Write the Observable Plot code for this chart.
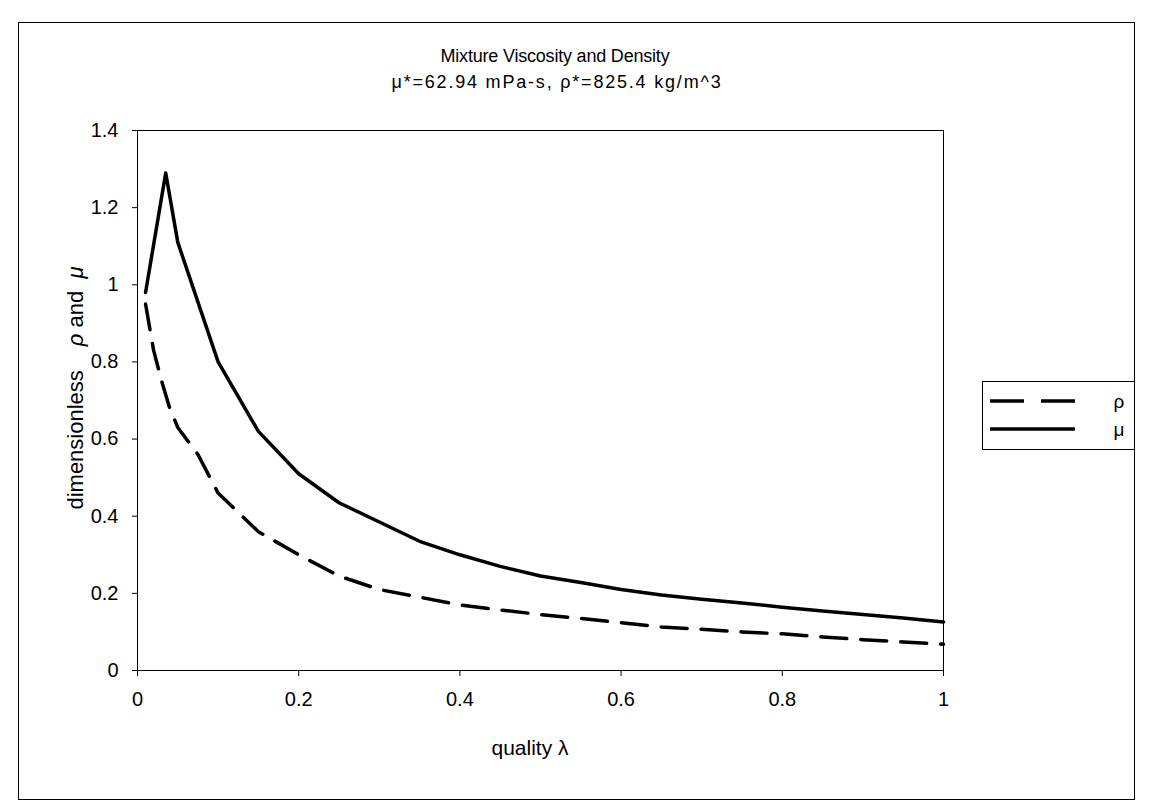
<!DOCTYPE html>
<html><head><meta charset="utf-8">
<script src="https://cdn.jsdelivr.net/npm/d3@7"></script>
<script src="https://cdn.jsdelivr.net/npm/@observablehq/plot@0.6"></script>
<style>
body{margin:0;background:#fff;font-family:"Liberation Sans",Arial,sans-serif;color:#000;}
#wrap{position:relative;width:1150px;height:812px;overflow:hidden;}
#border{position:absolute;left:18px;top:22px;width:1117px;height:778px;border:1px solid #000;box-sizing:border-box;}
#chart svg{position:absolute;left:0;top:0;}
.t{position:absolute;white-space:nowrap;transform:translateX(-50%);}
#title{left:555px;top:46px;font-size:18px;letter-spacing:-0.2px;}
#subtitle{left:557px;top:72px;font-size:18px;letter-spacing:1.8px;}
#xlabel{left:530px;top:736px;font-size:21px;}
#ylabel{position:absolute;left:76px;top:388px;font-size:22px;white-space:nowrap;transform:translate(-50%,-50%) rotate(-90deg);}
#ylabel .gap{display:inline-block;width:24px;}
#legend{position:absolute;left:982px;top:381px;}
</style></head>
<body><div id="wrap">
<div id="border"></div>
<div id="chart"></div>
<div id="title" class="t">Mixture Viscosity and Density</div>
<div id="subtitle" class="t">μ*=62.94 mPa-s, ρ*=825.4 kg/m^3</div>
<div id="xlabel" class="t">quality λ</div>
<div id="ylabel">dimensionless<span class="gap"></span><i>ρ</i> and&nbsp;&nbsp;<i>μ</i></div>
<div id="legend"></div>
</div>
<script>
// quality λ values and dimensionless viscosity μ
const muQuality = [0.01, 0.035, 0.05, 0.1, 0.15, 0.2, 0.25, 0.3, 0.35, 0.4, 0.45, 0.5, 0.55, 0.6, 0.65, 0.7, 0.75, 0.8, 0.85, 0.9, 0.95, 1.0];
const muValues  = [0.98, 1.29, 1.11, 0.80, 0.62, 0.51, 0.435, 0.385, 0.335, 0.30, 0.27, 0.245, 0.228, 0.21, 0.196, 0.185, 0.175, 0.164, 0.154, 0.145, 0.136, 0.126];
// quality λ values and dimensionless density ρ
const rhoQuality = [0.01, 0.02, 0.03, 0.04, 0.05, 0.075, 0.1, 0.15, 0.2, 0.25, 0.3, 0.35, 0.4, 0.45, 0.5, 0.55, 0.6, 0.65, 0.7, 0.75, 0.8, 0.85, 0.9, 0.95, 1.0];
const rhoValues  = [0.95, 0.83, 0.75, 0.68, 0.63, 0.56, 0.46, 0.36, 0.30, 0.245, 0.21, 0.19, 0.17, 0.157, 0.145, 0.135, 0.124, 0.113, 0.107, 0.10, 0.095, 0.087, 0.08, 0.074, 0.068];
// axis ticks
const xTicks = [0, 0.2, 0.4, 0.6, 0.8, 1];
const yTicks = [0, 0.2, 0.4, 0.6, 0.8, 1, 1.2, 1.4];
// legend
const seriesNames = ["ρ", "μ"];

const mu = muQuality.map((q, i) => ({q, v: muValues[i]}));
const rho = rhoQuality.map((q, i) => ({q, v: rhoValues[i]}));

const chart = Plot.plot({
  width: 1150,
  height: 812,
  marginLeft: 137,
  marginRight: 207,
  marginTop: 130,
  marginBottom: 142,
  style: {fontFamily: "'Liberation Sans', Arial, sans-serif", fontSize: "20px", color: "#000", background: "transparent"},
  x: {domain: [0, 1]},
  y: {domain: [0, 1.4]},
  marks: [
    Plot.frame({stroke: "#000", strokeWidth: 1}),
    Plot.axisX({ticks: xTicks, tickSize: 6, tickPadding: 15, label: null, tickFormat: d => String(d), fontSize: 20}),
    Plot.axisY({ticks: yTicks, tickSize: 5, tickPadding: 14, label: null, tickFormat: d => String(d), fontSize: 20}),
    Plot.line(rho, {x: "q", y: "v", stroke: "#000", strokeWidth: 3.5, strokeDasharray: "26,14"}),
    Plot.line(mu, {x: "q", y: "v", stroke: "#000", strokeWidth: 3.5})
  ]
});
document.getElementById("chart").appendChild(chart);

// legend box
const lg = d3.select("#legend").append("svg").attr("width", 153).attr("height", 69);
lg.append("rect").attr("x", 0.5).attr("y", 0.5).attr("width", 152).attr("height", 68).attr("fill", "#fff").attr("stroke", "#000");
const dashes = ["34,17", null];
seriesNames.forEach((name, i) => {
  const y = 20 + i * 28;
  lg.append("line").attr("x1", 8).attr("x2", 93).attr("y1", y).attr("y2", y)
    .attr("stroke", "#000").attr("stroke-width", 3.5).attr("stroke-dasharray", dashes[i]);
  lg.append("text").attr("x", 137).attr("y", y + 7).attr("text-anchor", "middle")
    .attr("font-size", 19).attr("font-family", "'Liberation Sans', Arial, sans-serif").text(name);
});
</script>
</body></html>
